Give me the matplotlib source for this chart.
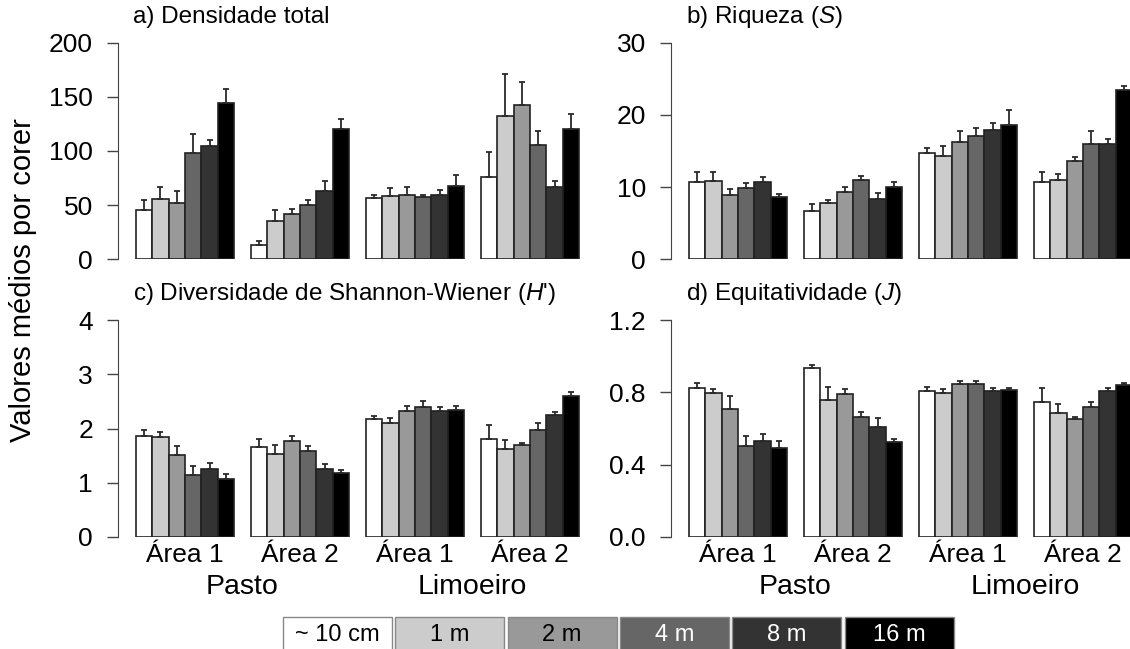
import numpy as np
import matplotlib
matplotlib.use('Agg')
import matplotlib.pyplot as plt

plt.rcParams['font.family'] = ['Liberation Sans', 'DejaVu Sans']
plt.rcParams['mathtext.fontset'] = 'custom'
plt.rcParams['mathtext.rm'] = 'Liberation Sans'
plt.rcParams['mathtext.it'] = 'Liberation Sans:italic'

# distancias (legenda) e grupos (area x cultivo)
distancias = ['~ 10 cm', '1 m', '2 m', '4 m', '8 m', '16 m']
cores = ['#FFFFFF', '#CCCCCC', '#999999', '#666666', '#333333', '#000000']
cor_texto = ['black', 'black', 'black', 'white', 'white', 'white']
areas = ['Área 1', 'Área 2', 'Área 1', 'Área 2']
cultivos = ['Pasto', 'Limoeiro']

# medias e erros padrao, uma linha por grupo (Pasto A1, Pasto A2, Limoeiro A1, Limoeiro A2)
dens_media = [[45.0, 55.5, 52.1, 98.0, 104.8, 144.5],
              [13.3, 35.4, 41.9, 50.2, 62.6, 120.2],
              [56.1, 58.2, 59.2, 57.0, 59.5, 67.8],
              [75.8, 132.2, 142.4, 106.0, 66.6, 120.2]]
dens_ep = [[9.2, 11.4, 10.8, 17.3, 5.8, 12.7],
           [3.6, 10.2, 4.6, 4.0, 9.5, 9.5],
           [3.4, 7.4, 7.4, 2.5, 4.3, 10.2],
           [23.1, 38.8, 21.5, 12.6, 5.8, 14.2]]

riq_media = [[10.73, 10.77, 8.92, 9.89, 10.73, 8.60],
             [6.61, 7.72, 9.34, 10.91, 8.37, 9.94],
             [14.66, 14.29, 16.27, 17.15, 17.98, 18.68],
             [10.68, 10.91, 13.59, 16.0, 16.0, 23.44]]
riq_ep = [[1.29, 1.25, 0.74, 0.65, 0.69, 0.46],
          [0.97, 0.51, 0.65, 0.65, 0.78, 0.79],
          [0.69, 1.38, 1.53, 1.02, 0.93, 2.08],
          [1.34, 0.83, 0.60, 1.71, 0.69, 0.60]]

div_media = [[1.87, 1.85, 1.51, 1.15, 1.26, 1.06],
             [1.66, 1.53, 1.77, 1.58, 1.26, 1.18],
             [2.17, 2.10, 2.32, 2.40, 2.33, 2.34],
             [1.80, 1.63, 1.69, 1.98, 2.25, 2.60]]
div_ep = [[0.10, 0.09, 0.17, 0.16, 0.11, 0.11],
          [0.14, 0.17, 0.10, 0.10, 0.09, 0.05],
          [0.06, 0.10, 0.10, 0.10, 0.07, 0.07],
          [0.26, 0.15, 0.04, 0.13, 0.06, 0.07]]

equi_media = [[0.825, 0.797, 0.707, 0.501, 0.532, 0.490],
              [0.935, 0.758, 0.793, 0.666, 0.609, 0.525],
              [0.808, 0.799, 0.845, 0.847, 0.810, 0.815],
              [0.749, 0.685, 0.653, 0.718, 0.810, 0.839]]
equi_ep = [[0.029, 0.024, 0.070, 0.059, 0.037, 0.040],
           [0.017, 0.072, 0.028, 0.026, 0.048, 0.018],
           [0.022, 0.020, 0.016, 0.018, 0.013, 0.010],
           [0.076, 0.049, 0.013, 0.029, 0.015, 0.011]]

W, H = 1130, 649
fig = plt.figure(figsize=(W / 100, H / 100), dpi=100)

def painel(x0, ytop, ybot, media, ep, yticks, ylabels, titulo, embaixo):
    ax = fig.add_axes([x0 / W, 1 - ybot / H, 479 / W, (ybot - ytop) / H])
    media = np.array(media)
    ep = np.array(ep)
    for g in range(4):
        xs = 1 + g * 7 + np.arange(6)
        ax.bar(xs, media[g], width=1, align='edge', color=cores,
               edgecolor='#222222', linewidth=1.2, zorder=2)
        ax.errorbar(xs + 0.5, media[g], yerr=[np.zeros(6), ep[g]], fmt='none',
                    ecolor='#2a2a2a', elinewidth=1.3, capsize=2.2, capthick=1.3,
                    zorder=3)
    ax.set_xlim(-0.08, 29.08)
    ax.set_ylim(0, yticks[-1])
    for s in ['top', 'right', 'bottom']:
        ax.spines[s].set_visible(False)
    ax.spines['left'].set_bounds(0, yticks[-1])
    ax.spines['left'].set_color('#444444')
    ax.set_yticks(yticks)
    ax.set_yticklabels(ylabels, fontsize=19)
    ax.tick_params(axis='y', length=8, width=1, color='#444444', pad=10)
    centros = [1 + g * 7 + 3 for g in range(4)]
    if embaixo:
        ax.set_xticks(centros)
        ax.set_xticklabels(areas, fontsize=19)
        ax.tick_params(axis='x', length=0, pad=4)
        trans = ax.get_xaxis_transform()
        ax.text((centros[0] + centros[1]) / 2, -50 / (ybot - ytop), cultivos[0],
                transform=trans, ha='center', va='center', fontsize=20.5)
        ax.text((centros[2] + centros[3]) / 2, -50 / (ybot - ytop), cultivos[1],
                transform=trans, ha='center', va='center', fontsize=20.5)
    else:
        ax.set_xticks([])
    fig.text((x0 + 15) / W, 1 - (ytop - 26) / H, titulo, ha='left', va='center',
             fontsize=17.5)
    return ax

painel(118, 43, 259, dens_media, dens_ep, [0, 50, 100, 150, 200],
       ['0', '50', '100', '150', '200'], 'a) Densidade total', False)
painel(671, 43, 259, riq_media, riq_ep, [0, 10, 20, 30],
       ['0', '10', '20', '30'], 'b) Riqueza ($\\mathit{S}$)', False)
painel(118, 320, 537, div_media, div_ep, [0, 1, 2, 3, 4],
       ['0', '1', '2', '3', '4'],
       "c) Diversidade de Shannon-Wiener ($\\mathit{H}$')", True)
painel(671, 320, 537, equi_media, equi_ep, [0.0, 0.4, 0.8, 1.2],
       ['0.0', '0.4', '0.8', '1.2'], 'd) Equitatividade ($\\mathit{J}$)', True)

fig.text(23 / W, 1 - 280 / H, 'Valores médios por corer', rotation=90,
         ha='center', va='center', fontsize=21)

# legenda em caixas na base da figura
lg = fig.add_axes([283 / W, 0, (957 - 283) / W, 32 / H])
lg.set_xlim(0, 6)
lg.set_ylim(0, 1)
lg.axis('off')
lg.bar(np.arange(6), 1.5, width=0.97, bottom=-0.5, align='edge', color=cores,
       edgecolor='#888888', linewidth=1.0, clip_on=False)
for i in range(6):
    lg.text(i + 0.485, 0.44, distancias[i], ha='center', va='center',
            fontsize=17, color=cor_texto[i])

fig.savefig('out.png', dpi=100)
